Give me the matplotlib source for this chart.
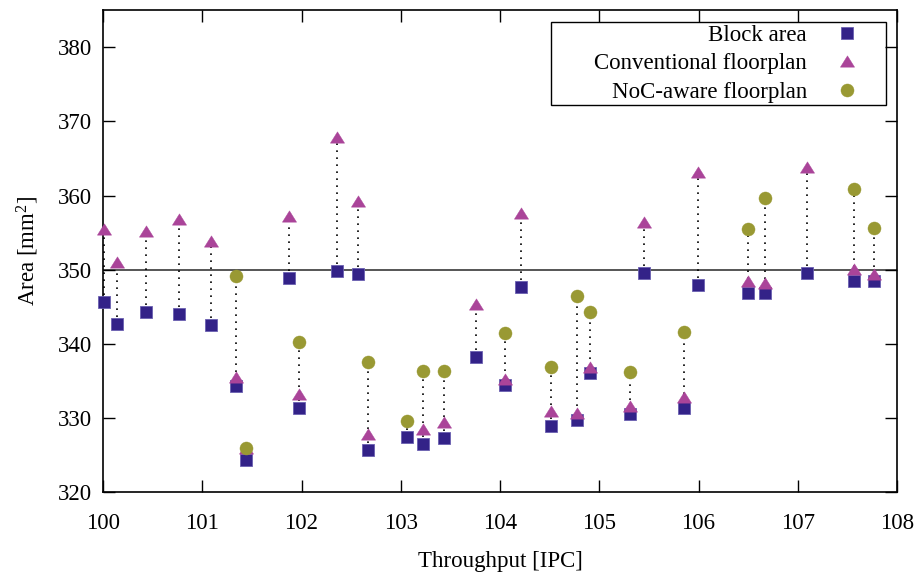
import numpy as np
import matplotlib
matplotlib.use("Agg")
import matplotlib.pyplot as plt
from matplotlib.path import Path
from matplotlib.patches import Rectangle

throughput = [100.01, 100.14, 100.43, 100.77, 101.09, 101.34, 101.44, 101.87, 101.97, 102.36,
              102.57, 102.67, 103.06, 103.22, 103.44, 103.76, 104.05, 104.21, 104.51, 104.78,
              104.91, 105.31, 105.45, 105.85, 105.99, 106.50, 106.67, 107.09, 107.57, 107.77]
block_area = [345.7, 342.7, 344.3, 344.0, 342.5, 334.3, 324.3, 348.9, 331.4, 349.8,
              349.4, 325.7, 327.4, 326.5, 327.3, 338.2, 334.5, 347.6, 328.9, 329.7,
              336.0, 330.5, 349.6, 331.4, 347.9, 346.9, 346.8, 349.6, 348.5, 348.5]
nan = float("nan")
conventional = [355.5, 351.0, 355.2, 356.9, 353.9, 335.5, 325.9, 357.3, 333.2, 367.9,
                359.3, 327.8, nan, 328.5, 329.4, 345.4, 335.2, 357.6, 330.9, 330.6,
                336.9, 331.6, 356.4, 332.8, 363.2, 348.5, 348.2, 363.9, 350.1, 349.4]
noc_aware = [nan, nan, nan, nan, nan, 349.1, 326.0, nan, 340.2, nan,
             nan, 337.6, 329.6, 336.3, 336.3, nan, 341.4, nan, 336.8, 346.4,
             344.3, 336.2, nan, 341.6, nan, 355.5, 359.7, nan, 360.9, 355.6]
reference_area = 350
x_ticks = [100, 101, 102, 103, 104, 105, 106, 107, 108]
y_ticks = [320, 330, 340, 350, 360, 370, 380]

plt.rcParams['font.family'] = ['Liberation Serif', 'DejaVu Serif']
plt.rcParams['mathtext.fontset'] = 'custom'
plt.rcParams['mathtext.rm'] = 'Liberation Serif'
plt.rcParams['mathtext.it'] = 'Liberation Serif:italic'

W, H = 921, 573
fig = plt.figure(figsize=(W / 100, H / 100), dpi=100)
ax = fig.add_axes([103 / W, 1 - 492 / H, (897 - 103) / W, (492 - 10.3) / H])

x = np.array(throughput)
b = np.array(block_area)
c = np.array(conventional)
n = np.array(noc_aware)
top = np.fmax(c, n)

tri = Path([(0, 0.8), (-1, -0.8), (1, -0.8), (0, 0.8)],
           [Path.MOVETO, Path.LINETO, Path.LINETO, Path.CLOSEPOLY])

ax.axhline(reference_area, color='#555555', lw=1.4, zorder=1)
ax.vlines(x, b, top, colors='black', linestyles=(0, (1, 3.2)), lw=1.2, zorder=2)

ax.plot(x, b, 's', color='#332288', markeredgecolor='#6a5fb0', markeredgewidth=0.6,
        markersize=9.3, label='Block area', zorder=3, clip_on=False)
ax.plot(x, c, marker=tri, ls='none', color='#aa4499', markeredgecolor='#aa4499',
        markeredgewidth=0.3, markersize=10.2, label='Conventional floorplan', zorder=4,
        clip_on=False)
ax.plot(x, n, 'o', color='#999933', markeredgecolor='#999933', markeredgewidth=0.3,
        markersize=9.4, label='NoC-aware floorplan', zorder=5, clip_on=False)

ax.set_xlim(100, 108)
ax.set_ylim(320, 385)
ax.set_xticks(x_ticks)
ax.set_yticks(y_ticks)
ax.tick_params(direction='in', length=8.6, width=1.0, top=True, right=True, labelsize=16.5)
ax.tick_params(axis='x', pad=15)
ax.tick_params(axis='y', pad=8)
for s in ax.spines.values():
    s.set_linewidth(1.2)

ax.set_xlabel('Throughput [IPC]', fontsize=16.5, labelpad=12.5)
ax.set_ylabel('Area [mm$^2$]', fontsize=16.5, labelpad=12)

fs_px = 16.5 * 100 / 72
hl = 1.6
leg = ax.legend(loc='upper right', bbox_to_anchor=((847 + hl * fs_px / 2) / W, 1 - 25 / H),
                bbox_transform=fig.transFigure, frameon=False, markerfirst=False,
                fontsize=16.5, handlelength=hl, handletextpad=0.95, borderpad=0,
                labelspacing=0.32, borderaxespad=0)
leg._legend_box.align = 'right'
fig.add_artist(Rectangle((551 / W, 1 - 105 / H), (886 - 551) / W, (105 - 21.7) / H,
                         transform=fig.transFigure, fill=False, ec='black', lw=1.0))

fig.savefig('out.png', dpi=100)
